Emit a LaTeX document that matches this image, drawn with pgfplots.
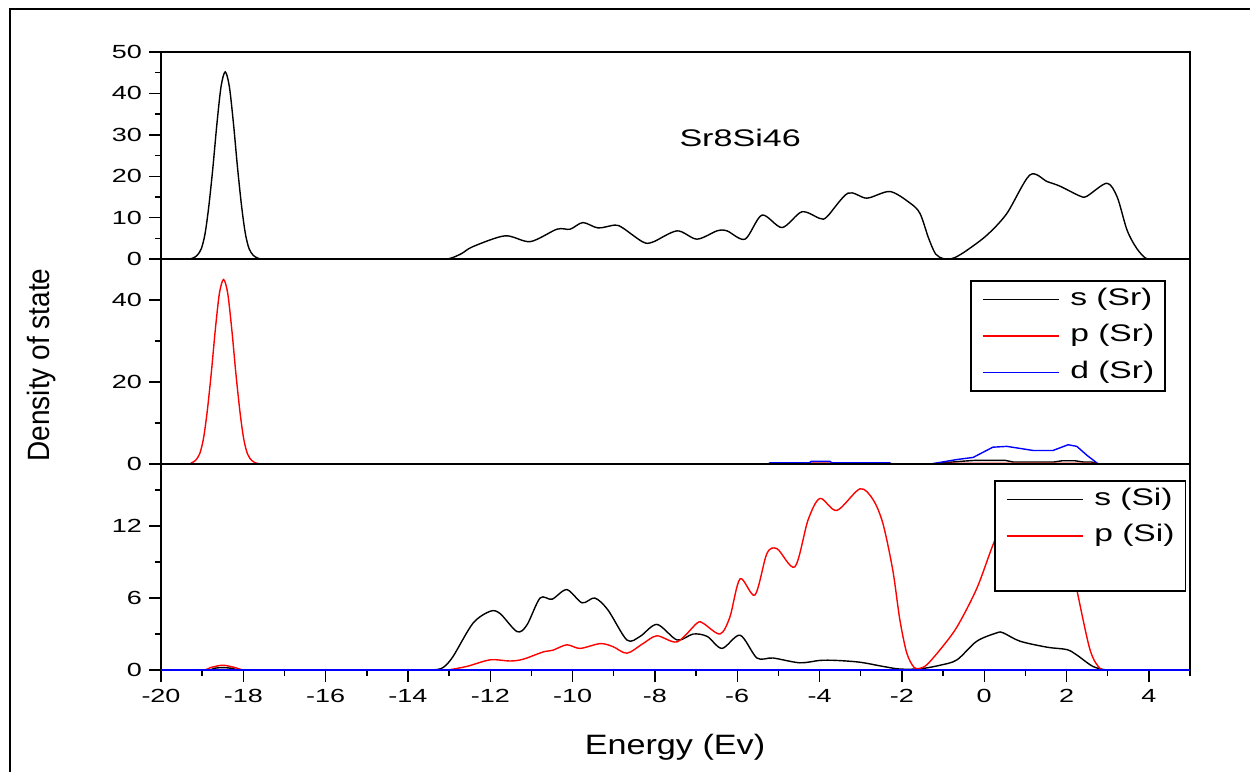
\documentclass[border=0pt]{standalone}
\usepackage{pgfplots}
\pgfplotsset{compat=1.18}
\usepackage{graphicx}
\usepackage{fontspec}
\setmainfont{Liberation Sans}
\begin{document}
\begin{tikzpicture}
\useasboundingbox (0,0) rectangle (625pt,-386pt);
\draw[line width=1pt] (5pt,-386pt) -- (5pt,-4.5pt) -- (625pt,-4.5pt);
\pgfplotsset{
  every axis/.append style={
    scale only axis, width=514.5pt, xmin=-20, xmax=5,
    axis line style={line width=0.8pt},
    tick style={black, line width=0.7pt},
    tick align=outside, major tick length=6pt, minor tick length=3pt,
    ytick pos=left, xtick pos=bottom,
    tick label style={font=\fontsize{9.5}{11}\selectfont},
    yticklabel={\scalebox{1.42}[1]{\pgfmathprintnumber{\tick}}},
    xticklabel={\scalebox{1.42}[1]{\pgfmathprintnumber{\tick}}},
    /pgf/number format/assume math mode=true,
    legend cell align=left,
    legend image code/.code={\draw[#1,line width=0.75pt] (0pt,0pt) -- (38pt,0pt);},
    legend style={draw=black, line width=0.8pt, fill=white,
      font=\fontsize{12}{14}\selectfont,
      inner xsep=5.5pt, inner ysep=3.25pt, row sep=6.25pt,
      nodes={inner sep=0pt, text height=9pt, text depth=3pt},
      /tikz/every odd column/.style={column sep=5.5pt}},
  },
  curve/.style={line width=0.7pt},
}
% ---------------- top panel ----------------
\begin{axis}[at={(80.5pt,-129.5pt)}, anchor=south west, height=103.5pt,
  ymin=0, ymax=50, ytick={0,10,...,50}, minor ytick={5,15,...,45}, xtick=\empty]
\addplot[black, curve, smooth] coordinates {
(-20,0) (-19.35,0) (-19.22,0.27) (-19.12,0.9) (-19.02,2.5) (-18.93,6.1) (-18.84,12.6)
(-18.74,22) (-18.64,32.8) (-18.54,41.7) (-18.44,45.2) (-18.34,41.7) (-18.24,32.8)
(-18.14,22) (-18.04,12.6) (-17.95,6.1) (-17.86,2.5) (-17.76,0.9) (-17.66,0.27) (-17.55,0)
(-17.2,0) (-13.4,0) (-13.0,0.1) (-12.7,1.3) (-12.42,3) (-11.64,5.6) (-11.03,4.2) (-10.38,7.2) (-10.06,7.2) (-9.75,8.8)
(-9.38,7.5) (-8.97,8.2) (-8.78,7.5) (-8.29,4.1) (-8.05,4.1) (-7.46,6.8) (-6.98,4.8)
(-6.49,6.8) (-6.25,6.8) (-5.81,4.8) (-5.40,10.6) (-4.91,7.6) (-4.43,11.4) (-3.99,9.8)
(-3.82,10.2) (-3.31,15.9) (-2.85,14.7) (-2.29,16.3) (-1.80,13.5) (-1.56,11.0) (-1.35,5)
(-1.18,1.2) (-1.0,0.1) (-0.85,0) (-0.7,0.4) (-0.42,2.1) (0.07,5.8) (0.55,11) (1.11,20.3) (1.53,18.7) (1.84,17.6)
(2.33,15.2) (2.50,15.2) (2.98,18.3) (3.23,15) (3.47,7) (3.71,2.5) (3.96,0) (4.3,0) (5,0)};
\node[font=\fontsize{12}{14}\selectfont] at (axis cs:-5.93,29.2) {\scalebox{1.42}[1]{Sr8Si46}};
\end{axis}
% ---------------- middle panel ----------------
\begin{axis}[at={(80.5pt,-232pt)}, anchor=south west, height=102.5pt,
  ymin=0, ymax=50, ytick={0,20,40}, minor ytick={10,30}, xtick=\empty,
  legend style={at={(rel axis cs:0.7862,0.8976)}, anchor=north west}]
\addplot[black, curve, sharp plot] coordinates {
(-20,0) (-1.3,0) (-1.0,0.3) (-0.5,0.7) (-0.2,0.9) (0.5,0.9) (0.7,0.5) (1.7,0.5)
(1.9,0.8) (2.2,0.8) (2.4,0.5) (2.6,0.5) (2.8,0) (5,0)};
\addlegendentry{\scalebox{1.4}[1]{s (Sr)}}
\addplot[red, curve, smooth] coordinates {
(-20,0) (-19.35,0) (-19.26,0.27) (-19.16,0.9) (-19.06,2.5) (-18.97,6.1) (-18.88,12.6)
(-18.78,22) (-18.68,32.8) (-18.58,41.7) (-18.48,45) (-18.38,41.7) (-18.28,32.8)
(-18.18,22) (-18.08,12.6) (-17.99,6.1) (-17.9,2.5) (-17.8,0.9) (-17.7,0.27) (-17.6,0) (-17.3,0)};
\addlegendentry{\scalebox{1.4}[1]{p (Sr)}}
\addplot[red, curve, sharp plot, forget plot] coordinates {
(-17.58,0) (-5.25,0) (-5.2,0.2) (-2.3,0.2) (-2.25,0) (-1.0,0) (-0.95,0.15) (2.7,0.15) (2.77,0) (5,0)};
\addplot[blue, curve, sharp plot] coordinates {
(-20,0) (-5.25,0) (-5.2,0.3) (-4.25,0.3) (-4.2,0.65) (-3.75,0.65) (-3.7,0.3) (-2.3,0.3)
(-2.25,0) (-1.3,0) (-0.66,1.1) (-0.27,1.6) (0.21,4.1) (0.55,4.3) (1.19,3.3) (1.67,3.3)
(2.04,4.7) (2.25,4.3) (2.50,2.1) (2.77,0) (5,0)};
\addlegendentry{\scalebox{1.4}[1]{d (Sr)}}
\end{axis}
% ---------------- bottom panel ----------------
\begin{axis}[at={(80.5pt,-335pt)}, anchor=south west, height=103pt,
  ymin=0, ymax=17.17, ytick={0,6,12}, minor ytick={3,9,15},
  xtick={-20,-18,...,4}, minor xtick={-19,-17,...,5},
  legend style={at={(rel axis cs:0.8095,0.9223)}, anchor=north west}]
\addplot[black, curve, smooth] coordinates {
(-20,0) (-18.9,0) (-18.7,0.15) (-18.5,0.2) (-18.3,0.15) (-18.1,0) (-17.8,0) (-13.7,0) (-13.39,0) (-13.15,0.2)
(-12.91,1.1) (-12.42,3.9) (-12.0,4.9) (-11.76,4.7) (-11.35,3.2) (-11.11,3.75) (-10.79,6.0)
(-10.50,5.9) (-10.14,6.7) (-9.77,5.6) (-9.46,6.0) (-9.14,5.0) (-8.68,2.5) (-8.36,2.8)
(-7.95,3.8) (-7.46,2.5) (-7.07,3.0) (-6.73,2.8) (-6.37,1.8) (-5.93,2.9) (-5.52,1.0)
(-5.13,1.0) (-4.48,0.6) (-3.99,0.8) (-3.6,0.8) (-3.02,0.65) (-2.46,0.3) (-2.05,0.08)
(-1.56,0.1) (-1.07,0.4) (-0.66,0.85) (-0.18,2.4) (0.31,3.1) (0.46,3.1) (0.87,2.4)
(1.53,1.9) (2.01,1.7) (2.25,1.25) (2.64,0.3) (2.98,0) (3.3,0) (5,0)};
\addlegendentry{\scalebox{1.4}[1]{s (Si)}}
\addplot[red, curve, smooth] coordinates {
(-20,0) (-19.0,0) (-18.8,0.2) (-18.5,0.4) (-18.2,0.2) (-18.0,0) (-17.7,0) (-13.4,0) (-13.05,0) (-12.57,0.3)
(-12.0,0.85) (-11.52,0.75) (-11.2,0.9) (-10.72,1.5) (-10.48,1.65) (-10.14,2.1) (-9.82,1.8)
(-9.33,2.2) (-9.02,1.95) (-8.68,1.4) (-8.29,2.2) (-7.95,2.85) (-7.46,2.35) (-6.98,3.9)
(-6.83,3.9) (-6.42,3.0) (-6.18,4.4) (-5.93,7.6) (-5.57,6.25) (-5.28,9.7) (-5.03,10.1)
(-4.60,8.6) (-4.28,12.5) (-3.99,14.3) (-3.58,13.3) (-3.02,15.1) (-2.70,14.2) (-2.46,12.2)
(-2.22,8.3) (-2.05,4.2) (-1.88,1.4) (-1.7,0.2) (-1.55,0.15) (-1.39,0.45) (-1.07,1.7) (-0.66,3.6)
(-0.18,6.8) (0.21,10.4) (0.6,13.5) (1.1,15.5) (1.6,14.5) (2.0,11) (2.25,6.7) (2.57,1.7)
(2.81,0.15) (3.05,0) (3.4,0) (5,0)};
\addlegendentry{\scalebox{1.4}[1]{p (Si)}}
\addlegendimage{empty legend}
\addlegendentry{}
\addplot[blue, curve, forget plot] coordinates {(-20,0) (5,0)};
\end{axis}
\node[font=\fontsize{14}{16}\selectfont] at (337.5pt,-373.5pt) {\scalebox{1.22}[1]{Energy (Ev)}};
\node[font=\fontsize{14}{16}\selectfont, rotate=90] at (21pt,-182.5pt) {\scalebox{1}[1.1]{Density of state}};
\end{tikzpicture}
\end{document}
